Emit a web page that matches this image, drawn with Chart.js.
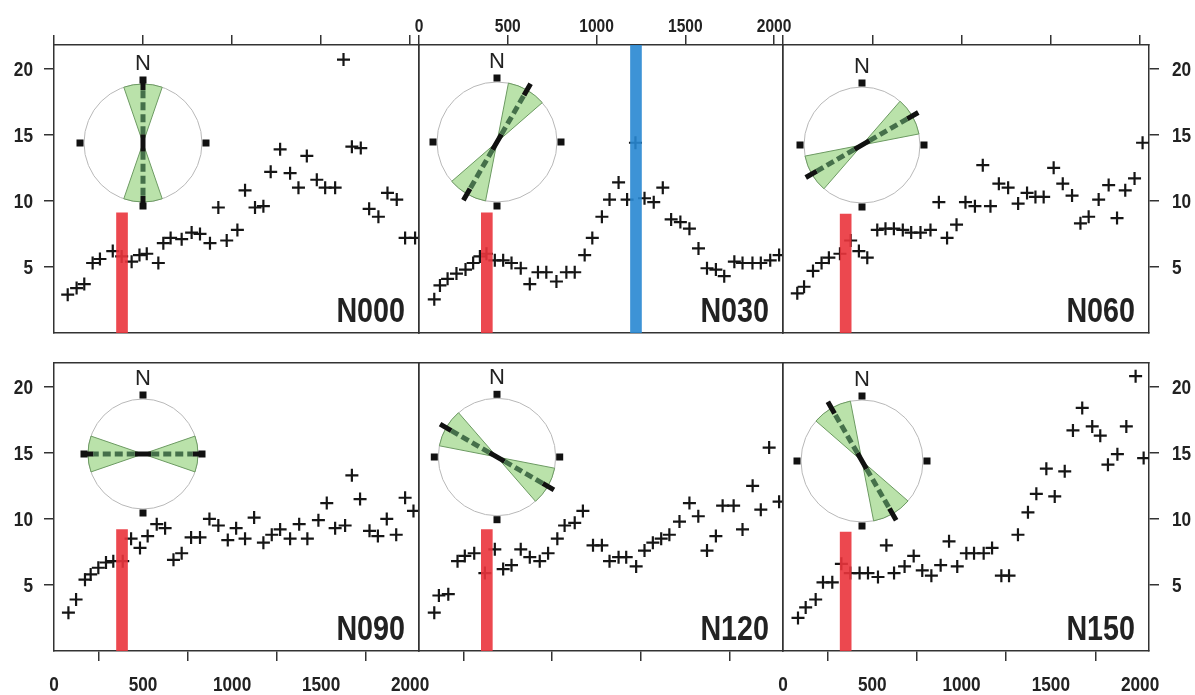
<!DOCTYPE html>
<html>
<head>
<meta charset="utf-8">
<script src="https://cdn.jsdelivr.net/npm/chart.js@4.4.1/dist/chart.umd.min.js"></script>
<style>
  html, body { margin: 0; padding: 0; background: #fff; }
  #wrap { position: relative; width: 1195px; height: 695px; overflow: hidden; }
  #wrap canvas { position: absolute; left: 0; top: 0; }
</style>
</head>
<body>
<div id="wrap"></div>
<script>
// ---- data ----
const panelNames = ['N000', 'N030', 'N060', 'N090', 'N120', 'N150'];
const azimuths = [0, 30, 60, 90, 120, 150];
const wedgeHalfWidth = 19;
const xTicks = [0, 500, 1000, 1500, 2000];
const yTicks = [5, 10, 15, 20];
const xRange = [0, 2050];
const yRange = [0, 21.8];
const redBarX = [382, 382, 351, 382, 382, 351];
const redBarHeight = [9.1, 9.1, 9.0, 9.2, 9.2, 9.0];
const blueBarX = 1222;      // N030 only
const blueBarHeight = 21.8;

const n000X = [77, 127, 170, 217, 258, 330, 380, 436, 480, 521, 586, 614, 655, 717, 773, 820, 876, 923, 970, 1030, 1073, 1129, 1176, 1217, 1270, 1326, 1373, 1420, 1476, 1523, 1579, 1626, 1673, 1723, 1770, 1822, 1873, 1925, 1972, 2028];
const n000Y = [2.9, 3.4, 3.7, 5.3, 5.6, 6.2, 5.8, 5.4, 5.9, 6.0, 5.3, 6.8, 7.2, 7.1, 7.6, 7.5, 6.8, 9.5, 7.0, 7.8, 10.8, 9.5, 9.6, 12.2, 13.9, 12.1, 11.0, 13.4, 11.6, 11.0, 11.0, 20.7, 14.1, 14.0, 9.4, 8.8, 10.6, 10.1, 7.2, 7.2];

const n030X = [86, 118, 161, 211, 262, 305, 343, 380, 427, 474, 521, 573, 624, 670, 717, 774, 830, 877, 933, 976, 1030, 1073, 1124, 1172, 1219, 1270, 1322, 1373, 1420, 1472, 1523, 1574, 1622, 1672, 1719, 1776, 1822, 1878, 1925, 1978, 2028];
const n030Y = [2.55, 3.6, 4.1, 4.5, 4.8, 5.3, 5.8, 6.0, 5.5, 5.5, 5.3, 4.9, 3.7, 4.6, 4.6, 3.9, 4.6, 4.6, 5.9, 7.2, 8.8, 10.1, 11.4, 10.1, 14.4, 10.2, 9.9, 11.0, 8.6, 8.4, 7.9, 6.4, 4.9, 4.8, 4.3, 5.4, 5.3, 5.3, 5.3, 5.5, 5.9];

const n060X = [80, 118, 168, 216, 257, 319, 379, 425, 472, 528, 574, 621, 671, 718, 770, 826, 873, 919, 972, 1022, 1075, 1119, 1162, 1209, 1261, 1317, 1367, 1414, 1460, 1516, 1567, 1619, 1666, 1712, 1768, 1824, 1871, 1917, 1969, 2014];
const n060Y = [3.0, 3.5, 4.7, 5.3, 5.7, 6.0, 7.0, 6.2, 5.7, 7.8, 7.9, 7.9, 7.8, 7.6, 7.6, 7.8, 9.9, 7.2, 8.2, 9.9, 9.6, 12.7, 9.6, 11.3, 11.0, 9.8, 10.6, 10.3, 10.3, 12.5, 11.3, 10.4, 8.3, 8.8, 10.1, 11.2, 8.7, 10.8, 11.7, 14.4];

const n090X = [81, 124, 174, 206, 249, 292, 333, 386, 433, 483, 526, 577, 624, 671, 717, 770, 820, 873, 923, 976, 1023, 1073, 1124, 1176, 1223, 1270, 1326, 1377, 1423, 1485, 1532, 1579, 1635, 1673, 1719, 1772, 1819, 1869, 1922, 1972, 2019];
const n090Y = [2.9, 3.9, 5.4, 5.8, 6.3, 6.7, 6.8, 6.8, 8.5, 7.8, 8.7, 9.6, 9.3, 6.9, 7.4, 8.6, 8.6, 10.0, 9.5, 8.4, 9.3, 8.5, 10.1, 8.2, 8.8, 9.2, 8.5, 9.6, 8.5, 9.9, 11.2, 9.3, 9.5, 13.3, 11.5, 9.1, 8.7, 10.0, 8.8, 11.6, 10.6];

const n120X = [86, 112, 165, 217, 258, 311, 371, 427, 474, 521, 573, 624, 680, 727, 779, 820, 877, 923, 980, 1030, 1073, 1124, 1167, 1223, 1270, 1317, 1364, 1410, 1467, 1523, 1573, 1622, 1672, 1710, 1772, 1822, 1879, 1925, 1972, 2028];
const n120Y = [2.9, 4.2, 4.3, 6.8, 7.2, 7.4, 5.9, 7.7, 6.2, 6.5, 7.7, 7.1, 6.8, 7.4, 8.5, 9.5, 9.7, 10.6, 8.0, 8.0, 6.8, 7.1, 7.1, 6.4, 7.6, 8.2, 8.5, 8.8, 9.8, 11.2, 10.2, 7.6, 8.7, 11.0, 11.0, 9.2, 12.5, 10.7, 15.4, 11.3];

const n150X = [84, 127, 183, 224, 276, 327, 377, 429, 476, 532, 579, 622, 681, 732, 780, 831, 883, 930, 976, 1027, 1070, 1124, 1171, 1223, 1266, 1316, 1372, 1419, 1475, 1522, 1578, 1624, 1676, 1732, 1777, 1820, 1873, 1923, 1975, 2020];
const n150Y = [2.5, 3.3, 3.9, 5.2, 5.2, 6.6, 5.9, 5.9, 5.9, 5.6, 8.0, 5.9, 6.4, 7.2, 6.1, 5.7, 6.5, 8.3, 6.4, 7.4, 7.4, 7.4, 7.8, 5.7, 5.7, 8.8, 10.5, 11.9, 13.8, 11.7, 13.6, 16.7, 18.4, 17.0, 16.3, 14.1, 14.9, 17.0, 20.8, 14.6];

const seriesX = [n000X, n030X, n060X, n090X, n120X, n150X];
const seriesY = [n000Y, n030Y, n060Y, n090Y, n120Y, n150Y];

// ---- layout ----
const W = 1195, H = 695;
const cols = [[54, 419], [419, 783], [783, 1149]];
const rows = [[45, 333], [363, 651]];
const AX = 40; // fixed axis box size
const NARROW = 0.82; // horizontal squeeze, the original uses a condensed face
// rose inset: centre relative to panel, radius in px
const roses = [
  { cx: 88.5, cy: 97.5, r: 59 },
  { cx: 77.7, cy: 96.7, r: 60 },
  { cx: 79, cy: 99.5, r: 58 },
  { cx: 88.5, cy: 91.3, r: 55 },
  { cx: 77.7, cy: 94, r: 58.7 },
  { cx: 79, cy: 98, r: 61 }
];

const clear = 'rgba(0,0,0,0)';
const wrap = document.getElementById('wrap');

function newCanvas(left, top, w, h) {
  const c = document.createElement('canvas');
  c.width = w; c.height = h;
  c.style.left = left + 'px'; c.style.top = top + 'px';
  c.style.width = w + 'px'; c.style.height = h + 'px';
  wrap.appendChild(c);
  return c;
}

function narrowText(ctx, text, x, y, align) {
  ctx.save();
  ctx.translate(x, y);
  ctx.scale(NARROW, 1);
  ctx.textAlign = align;
  ctx.fillText(text, 0, 0);
  ctx.restore();
}

const panelLabel = {
  id: 'panelLabel',
  afterDraw(chart, args, opts) {
    const { ctx, chartArea } = chart;
    ctx.save();
    ctx.font = 'bold 35px "Liberation Sans", Arial';
    ctx.fillStyle = '#222';
    ctx.textBaseline = 'alphabetic';
    narrowText(ctx, opts.text, chartArea.right - 14, chartArea.bottom - 11, 'right');
    ctx.restore();
  }
};

// tick labels in a condensed look (chart.js has no horizontal font stretch)
const narrowTicks = {
  id: 'narrowTicks',
  afterDraw(chart, args, opts) {
    const { ctx, chartArea } = chart;
    ctx.save();
    ctx.fillStyle = '#222';
    ctx.textBaseline = 'middle';
    (opts.axes || []).forEach(id => {
      const s = chart.scales[id];
      const size = s.position === 'top' ? 19 : 21;
      ctx.font = 'bold ' + size + 'px "Liberation Sans", Arial';
      s.ticks.forEach(t => {
        const p = s.getPixelForValue(t.value);
        const label = String(t.value);
        if (s.position === 'left') narrowText(ctx, label, chartArea.left - 21, p + 1, 'right');
        else if (s.position === 'right') narrowText(ctx, label, chartArea.right + 23, p + 1, 'left');
        else if (s.position === 'top') narrowText(ctx, label, p, chartArea.top - 18.5, 'center');
        else narrowText(ctx, label, p, chartArea.bottom + 34.5, 'center');
      });
    });
    ctx.restore();
  }
};

function axis(position, range, ticksArr, showTicks) {
  return {
    type: 'linear',
    position: position,
    min: range[0],
    max: range[1],
    offset: false,
    afterBuildTicks: s => { s.ticks = ticksArr.map(v => ({ value: v })); },
    afterFit: s => {
      if (s.isHorizontal()) s.height = AX; else s.width = AX;
      s.paddingLeft = s.paddingRight = s.paddingTop = s.paddingBottom = 0;
    },
    grid: { display: true, drawOnChartArea: false, drawTicks: true, tickLength: 10, lineWidth: 1.5, color: showTicks ? '#333' : clear },
    border: { display: true, color: '#333', width: 1.5 },
    ticks: { color: clear, autoSkip: false, maxRotation: 0 }
  };
}

function makePanel(i) {
  const row = Math.floor(i / 3), col = i % 3;
  const [L, R] = cols[col];
  const [T, B] = rows[row];
  const top = row === 0, bottom = row === 1;
  const canvas = newCanvas(0, 0, W, H);

  const datasets = [
    {
      type: 'scatter',
      data: seriesX[i].map((x, k) => ({ x: x, y: seriesY[i][k] })),
      pointStyle: 'cross',
      pointRadius: 6.5,
      pointBorderWidth: 2.2,
      borderColor: '#151515',
      order: 2
    },
    {
      type: 'bar',
      data: [{ x: redBarX[i], y: redBarHeight[i] }],
      backgroundColor: 'rgba(234,52,60,0.9)',
      barThickness: 11,
      grouped: false,
      order: 1
    }
  ];
  if (i === 1) {
    datasets.push({
      type: 'bar',
      data: [{ x: blueBarX, y: blueBarHeight }],
      backgroundColor: 'rgba(40,135,210,0.9)',
      barThickness: 11,
      grouped: false,
      order: 1
    });
  }

  const labelled = [];
  if (bottom && col !== 1) labelled.push('x');
  if (top && col === 1) labelled.push('xTop');
  if (col === 0) labelled.push('y');
  if (col === 2) labelled.push('yRight');

  new Chart(canvas, {
    type: 'scatter',
    data: { datasets: datasets },
    options: {
      responsive: false,
      animation: false,
      devicePixelRatio: 1,
      events: [],
      layout: { padding: { left: L - AX, right: W - R - AX, top: T - AX, bottom: H - B - AX } },
      plugins: {
        legend: { display: false },
        tooltip: { enabled: false },
        panelLabel: { text: panelNames[i] },
        narrowTicks: { axes: labelled }
      },
      scales: {
        x: axis('bottom', xRange, xTicks, bottom),
        xTop: axis('top', xRange, xTicks, top),
        y: axis('left', yRange, yTicks, col === 0),
        yRight: axis('right', yRange, yTicks, col === 2)
      }
    },
    plugins: [panelLabel, narrowTicks]
  });
}

const roseDecor = {
  id: 'roseDecor',
  beforeDatasetsDraw(chart) {
    const arc = chart.getDatasetMeta(0).data[0];
    const ctx = chart.ctx;
    ctx.save();
    ctx.beginPath();
    ctx.arc(arc.x, arc.y, arc.outerRadius, 0, Math.PI * 2);
    ctx.strokeStyle = '#b8b8b8';
    ctx.lineWidth = 1;
    ctx.stroke();
    ctx.restore();
  },
  afterDatasetsDraw(chart, args, opts) {
    const arc = chart.getDatasetMeta(0).data[0];
    const ctx = chart.ctx;
    const cx = arc.x, cy = arc.y, r = arc.outerRadius;
    const a = opts.azimuth * Math.PI / 180;
    const dx = Math.sin(a), dy = -Math.cos(a);
    const seg = (r0, r1) => { ctx.moveTo(cx + dx * r0, cy + dy * r0); ctx.lineTo(cx + dx * r1, cy + dy * r1); };
    ctx.save();
    ctx.lineCap = 'butt';
    // black ends and centre
    ctx.lineWidth = 5;
    ctx.strokeStyle = '#111';
    ctx.beginPath();
    seg(0.9 * r, 1.12 * r); seg(-0.9 * r, -1.12 * r); seg(-0.15 * r, 0.15 * r);
    ctx.stroke();
    // dashed direction line
    ctx.setLineDash([8, 4]);
    ctx.strokeStyle = '#45704a';
    ctx.beginPath();
    seg(0.15 * r, 0.9 * r); seg(-0.15 * r, -0.9 * r);
    ctx.stroke();
    ctx.setLineDash([]);
    // cardinal squares
    const q = r + 4, s = 7;
    ctx.fillStyle = '#111';
    [[0, -q], [q, 0], [0, q], [-q, 0]].forEach(([ox, oy]) => ctx.fillRect(cx + ox - s / 2, cy + oy - s / 2, s, s));
    // north label
    ctx.font = '22px "Liberation Sans", Arial';
    ctx.textAlign = 'center';
    ctx.textBaseline = 'middle';
    ctx.fillStyle = '#222';
    ctx.fillText('N', cx, cy - r - 20);
    ctx.restore();
  }
};

function makeRose(i) {
  const row = Math.floor(i / 3), col = i % 3;
  const S = 200;
  const rs = roses[i];
  const left = cols[col][0] + rs.cx - S / 2;
  const top = rows[row][0] + rs.cy - S / 2;
  const canvas = newCanvas(left, top, S, S);
  const w = 2 * wedgeHalfWidth;
  new Chart(canvas, {
    type: 'pie',
    data: {
      datasets: [{
        data: [w, 180 - w, w, 180 - w],
        backgroundColor: ['#bae2aa', clear, '#bae2aa', clear],
        borderColor: ['#6c9a62', clear, '#6c9a62', clear],
        borderWidth: [1, 0, 1, 0],
        radius: rs.r
      }]
    },
    options: {
      responsive: false,
      animation: false,
      devicePixelRatio: 1,
      events: [],
      rotation: azimuths[i] - wedgeHalfWidth,
      layout: { padding: 0 },
      plugins: { legend: { display: false }, tooltip: { enabled: false }, roseDecor: { azimuth: azimuths[i] } }
    },
    plugins: [roseDecor]
  });
}

for (let i = 0; i < 6; i++) makePanel(i);
for (let i = 0; i < 6; i++) makeRose(i);
</script>
</body>
</html>
